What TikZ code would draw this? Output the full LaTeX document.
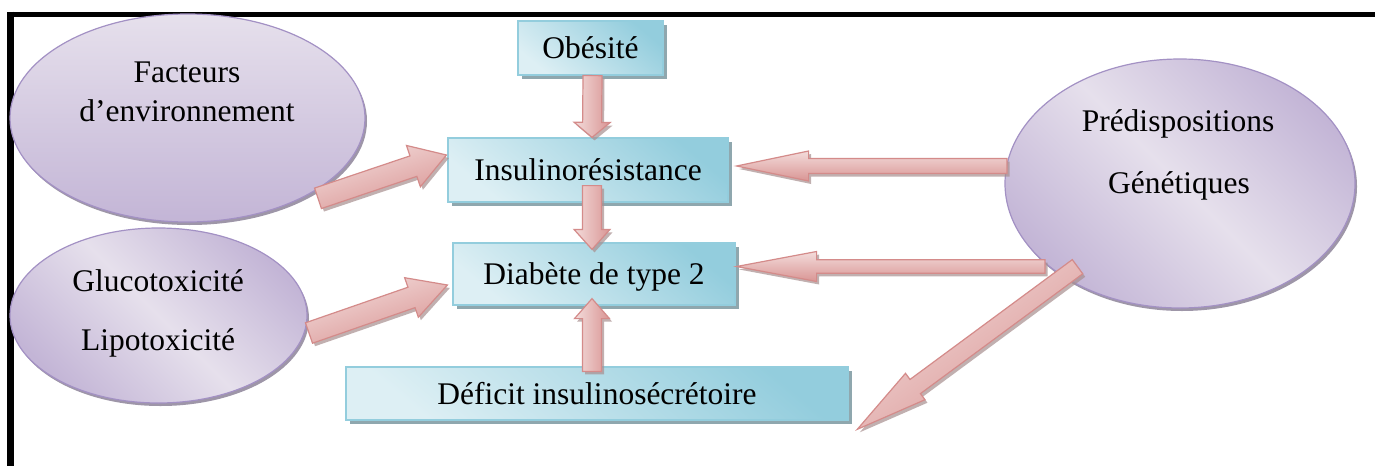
\documentclass[tikz,border=0pt]{standalone}
\usepackage{fontspec}
\setmainfont{Liberation Serif}
\usetikzlibrary{calc,shadows,shapes.geometric}
\definecolor{cyanL}{HTML}{DDEFF4}
\definecolor{cyanD}{HTML}{93CDDD}
\definecolor{cyanB}{HTML}{93CDDD}
\definecolor{boxshadow}{HTML}{8FA7AE}
\definecolor{lavL}{HTML}{E6E0EC}
\definecolor{lavD}{HTML}{C3B5D6}
\definecolor{lavB}{HTML}{A391C4}
\definecolor{lavshadow}{HTML}{9E96A8}
\definecolor{pinkL}{HTML}{F3DCDB}
\definecolor{pinkD}{HTML}{D99594}
\definecolor{pinkB}{HTML}{D48B8A}
\definecolor{arrshadow}{HTML}{A88F8F}
\newcommand\blockarr[6]{%
  \coordinate (bh) at ($(#2)!#5!(#1)$);
  \path[arr, shading angle=#6]
    ($(#1)!#3!90:(#2)$) -- ($(bh)!#3!-90:(#1)$) -- ($(bh)!#4!-90:(#1)$) -- (#2)
    -- ($(bh)!#4!90:(#1)$) -- ($(bh)!#3!90:(#1)$) -- ($(#1)!#3!-90:(#2)$) -- cycle;
}
\begin{document}
\begin{tikzpicture}[x=1pt,y=-1pt,
  txt/.style={font=\fontsize{31.5}{38}\selectfont, inner sep=0pt},
  box/.style={rectangle, draw=cyanB, line width=1.2pt, top color=cyanD, bottom color=cyanL, shading angle=-40,
    inner sep=0pt, text height=21pt, text depth=0pt, font=\fontsize{31.5}{38}\selectfont,
    drop shadow={shadow xshift=4pt, shadow yshift=-4pt, fill=boxshadow, opacity=1}},
  ell/.style={ellipse, draw=lavB, line width=1.2pt, inner sep=0pt,
    drop shadow={shadow xshift=2pt, shadow yshift=-3pt, fill=lavshadow, opacity=1}},
  arr/.style={draw=pinkB, line width=1.2pt, line join=miter, top color=pinkL, bottom color=pinkD,
    drop shadow={shadow xshift=2.5pt, shadow yshift=-3pt, fill=arrshadow, opacity=.7}}
]
\useasboundingbox (0,0) rectangle (1375,466);
\fill[white] (0,0) rectangle (1375,466);
% frame
\draw[line width=5.6pt] (7.3,14.5) -- (1375,14.5);
\draw[line width=6.7pt] (10.7,11.7) -- (10.7,466);

% ellipses
\node[ell, minimum width=355pt, minimum height=208pt, top color=lavL, bottom color=lavD] (fac) at (187.5,118) {};
\node[ell, minimum width=297pt, minimum height=175pt, top color=lavD, bottom color=lavD, middle color=lavL, shading angle=-45] (glu) at (158.5,315.5) {};
\node[ell, minimum width=350pt, minimum height=249pt, top color=lavD, bottom color=lavD, middle color=lavL, shading angle=-45] (gen) at (1180,183.5) {};

\node[txt, anchor=base] (fac1) at (187,82) {Facteurs};
\node[txt, anchor=base] (fac2) at (187,121.7) {d’environnement};
\node[txt, anchor=base] (glu1) at (158,291) {Glucotoxicité};
\node[txt, anchor=base] (glu2) at (158,350.7) {Lipotoxicité};
\node[txt, anchor=base] (gen1) at (1178,131.7) {Prédispositions};
\node[txt, anchor=base] (gen2) at (1179,193) {Génétiques};

% boxes
\node[box, minimum width=145pt, minimum height=54pt] (obe) at (590.5,48) {Obésité};
\node[box, minimum width=280pt, minimum height=64pt] (ins) at (588,170) {Insulinorésistance};
\node[box, minimum width=282pt, minimum height=62pt] (dia) at (594,274) {Diabète de type 2};
\node[box, minimum width=502pt, minimum height=53pt] (def) at (597,393.5) {Déficit insulinosécrétoire};

% arrow ends
\coordinate (a1t) at ($(obe.south)+(2,0)$);
\coordinate (a1h) at ($(ins.north)+(4,0)$);
\coordinate (a2t) at ($(ins.south)+(4,-17)$);
\coordinate (a2h) at ($(dia.north)+(-2,7)$);
\coordinate (a3t) at ($(def.north)+(-5,5)$);
\coordinate (a3h) at ($(dia.south)+(-2,-7)$);
\coordinate (a4t) at ($(fac.center)+(130.5,80.3)$);
\coordinate (a4h) at ($(ins.west)+(-1,-15)$);
\coordinate (a5t) at ($(glu.center)+(150.5,17.5)$);
\coordinate (a5h) at ($(dia.west)+(-5,11)$);
\coordinate (a6t) at ($(gen.center)+(-173,-17.5)$);
\coordinate (a6h) at ($(ins.east)+(8,-4)$);
\coordinate (a7t) at ($(gen.center)+(-135,83)$);
\coordinate (a7h) at ($(dia.east)+(1,-7.5)$);
\coordinate (a8t) at ($(gen.center)+(-102.5,83.2)$);
\coordinate (a8h) at ($(def.east)+(8.7,35.8)$);

% block arrows
\blockarr{a1t}{a1h}{9.5pt}{18pt}{15pt}{90}
\blockarr{a2t}{a2h}{9.5pt}{18pt}{20pt}{90}
\blockarr{a3t}{a3h}{9.5pt}{17.5pt}{20pt}{90}
\blockarr{a4t}{a4h}{10.8pt}{21.8pt}{34.8pt}{18.5}
\blockarr{a5t}{a5h}{10.8pt}{20.9pt}{38pt}{19}
\blockarr{a6t}{a6h}{7.5pt}{15pt}{72pt}{0}
\blockarr{a7t}{a7h}{6.8pt}{15pt}{80pt}{0}
\blockarr{a8t}{a8h}{8.8pt}{16.4pt}{72pt}{36}
\end{tikzpicture}
\end{document}
